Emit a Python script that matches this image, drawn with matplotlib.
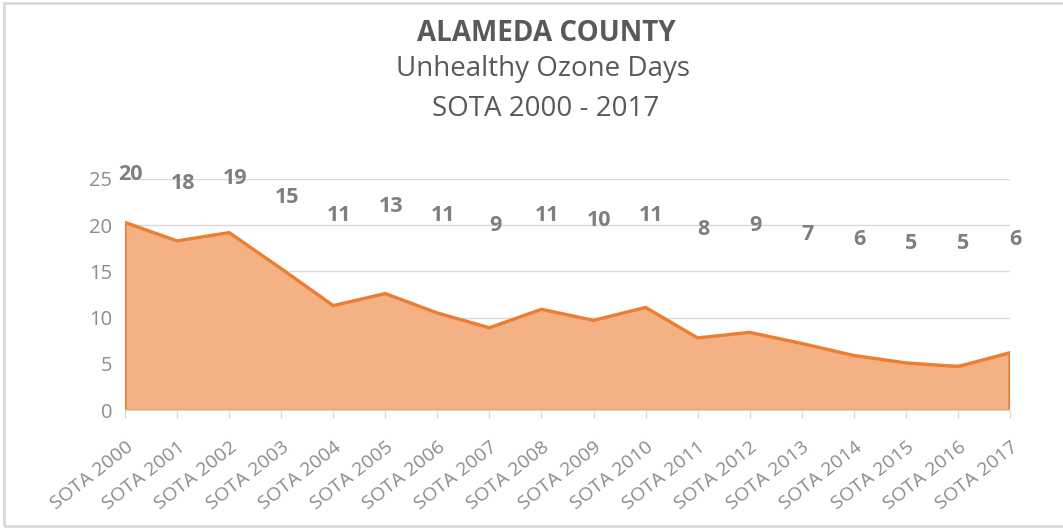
import matplotlib
matplotlib.use("Agg")
import matplotlib.pyplot as plt
from matplotlib.patches import Rectangle
import numpy as np

categories = ["SOTA 2000", "SOTA 2001", "SOTA 2002", "SOTA 2003", "SOTA 2004", "SOTA 2005",
              "SOTA 2006", "SOTA 2007", "SOTA 2008", "SOTA 2009", "SOTA 2010", "SOTA 2011",
              "SOTA 2012", "SOTA 2013", "SOTA 2014", "SOTA 2015", "SOTA 2016", "SOTA 2017"]
values = [20.3, 18.3, 19.2, 15.3, 11.3, 12.6, 10.5, 8.9, 10.9, 9.7, 11.1, 7.8,
          8.4, 7.2, 5.9, 5.1, 4.7, 6.2]
labels = [20, 18, 19, 15, 11, 13, 11, 9, 11, 10, 11, 8, 9, 7, 6, 5, 5, 6]
yticks = [0, 5, 10, 15, 20, 25]

plt.rcParams['font.family'] = ['Open Sans', 'DejaVu Sans']

W, H = 1063, 529
fig = plt.figure(figsize=(W / 100, H / 100), dpi=100)
fig.patch.set_facecolor("white")

# figure border
fig.patches.append(Rectangle((4 / W, 3 / H), (W + 20) / W, (H - 6) / H,
                             transform=fig.transFigure, fill=False,
                             edgecolor="#d9d9d9", linewidth=2.0))

ax = fig.add_axes([125 / W, (H - 410) / H, (1010 - 125) / W, (410 - 179) / H])
x = np.arange(len(categories))

ax.fill_between(x, 0, values, facecolor="#f4b183", edgecolor="none", zorder=2)
poly_x = np.concatenate([[x[0]], x, [x[-1]]])
poly_y = np.concatenate([[0], values, [0]])
ax.plot(poly_x, poly_y, color="#ed7d31", linewidth=2.4, zorder=3,
        solid_joinstyle="miter")
ax.plot([x[0], x[-1]], [0, 0], color="#f0a06a", linewidth=1.5, zorder=3)

ax.set_xlim(x[0], x[-1])
ax.set_ylim(0, 25)
ax.set_yticks(yticks)
ax.yaxis.grid(True, color="#d9d9d9", linewidth=1.0)
ax.set_axisbelow(True)
for s in ["top", "right", "left"]:
    ax.spines[s].set_visible(False)
ax.spines["bottom"].set_color("#d9d9d9")

ax.tick_params(axis="y", length=0, labelsize=14.5, labelcolor="#8c8c8c", pad=9)
ax.tick_params(axis="x", length=6, color="#d9d9d9", width=1.0,
               labelsize=14, labelcolor="#8c8c8c", pad=14)
ax.set_xticks(x)
ax.set_xticklabels(categories, rotation=38, ha="right", rotation_mode="anchor")

# data labels (positioned on a secondary-like scale above the area)
for xi, lab in zip(x, labels):
    ax.annotate(str(lab), (xi, 15.5 + 0.5 * lab), xytext=(4, 0),
                textcoords="offset points", ha="center", va="center",
                fontsize=15.5, fontweight="bold", color="#7f7f7f",
                annotation_clip=False, clip_on=False)

fig.text(546 / W, 1 - 41 / H, "ALAMEDA COUNTY", ha="center", va="baseline",
         fontsize=20, fontweight="bold", color="#595959")
fig.text(543 / W, 1 - 76 / H, "Unhealthy Ozone Days", ha="center", va="baseline",
         fontsize=20, color="#595959")
fig.text(546 / W, 1 - 116 / H, "SOTA 2000 - 2017", ha="center", va="baseline",
         fontsize=20, color="#595959")

fig.savefig("out.png", dpi=100, facecolor="white")
